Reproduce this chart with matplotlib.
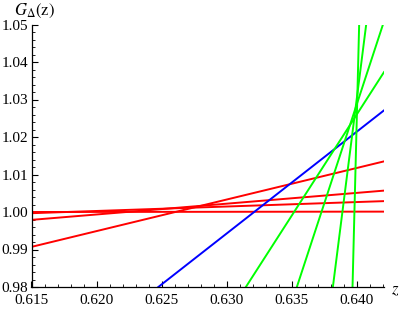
import matplotlib
matplotlib.use("Agg")
import matplotlib.pyplot as plt
from matplotlib.ticker import MultipleLocator, FormatStrFormatter

plt.rcParams['font.family'] = ['Liberation Serif', 'DejaVu Serif']
plt.rcParams['mathtext.fontset'] = 'stix'

# Line endpoints (z, G) pairs
red_z = [[0.615, 0.6421], [0.615, 0.6421], [0.615, 0.6421], [0.615, 0.6421]]
red_g = [[0.9907, 1.0135], [0.9979, 1.0057], [0.99968, 1.0029], [1.0000, 1.0001]]

blue_z = [0.62475, 0.6421]
blue_g = [0.98, 1.0271]

green_z = [[0.63148, 0.6421], [0.6354, 0.64202], [0.63817, 0.64073], [0.63968, 0.64019]]
green_g = [[0.98, 1.0373], [0.98, 1.05], [0.98, 1.05], [0.98, 1.05]]

x_ticks = [0.615, 0.620, 0.625, 0.630, 0.635, 0.640]
y_ticks = [0.98, 0.99, 1.00, 1.01, 1.02, 1.03, 1.04, 1.05]

fig = plt.figure(figsize=(3.99, 3.11), dpi=100)
ax = fig.add_axes([31.5/399, 24/311, (384-31.5)/399, (287-24.5)/311])

lw = 1.4
for zs, gs in zip(red_z, red_g):
    ax.plot(zs, gs, color=(1, 0, 0), lw=lw)
ax.plot(blue_z, blue_g, color=(0, 0, 1), lw=lw)
for zs, gs in zip(green_z, green_g):
    ax.plot(zs, gs, color=(0, 1, 0), lw=lw)

ax.set_xlim(0.615, 0.6421)
ax.set_ylim(0.98, 1.05)

ax.spines['top'].set_visible(False)
ax.spines['right'].set_visible(False)
for s in ('left', 'bottom'):
    ax.spines[s].set_linewidth(0.9)

ax.set_xticks(x_ticks)
ax.set_yticks(y_ticks)
ax.xaxis.set_major_formatter(FormatStrFormatter('%.3f'))
ax.yaxis.set_major_formatter(FormatStrFormatter('%.2f'))
ax.xaxis.set_minor_locator(MultipleLocator(0.001))
ax.yaxis.set_minor_locator(MultipleLocator(0.002))
ax.tick_params(which='major', direction='in', length=4.5, width=0.8, labelsize=11)
ax.tick_params(axis='y', which='major', pad=2.5)
ax.tick_params(axis='x', which='major', pad=5)
ax.tick_params(which='minor', direction='in', length=2.5, width=0.6)
ax.tick_params(top=False, right=False)

fig.text(14/399, 1 - 11/311, r'$G_{\Delta}(\mathrm{z})$', fontsize=12, ha='left', va='center')
fig.text(391/399, 1 - 290/311, r'$z$', fontsize=12, ha='left', va='center')

fig.savefig('out.png', dpi=100)
